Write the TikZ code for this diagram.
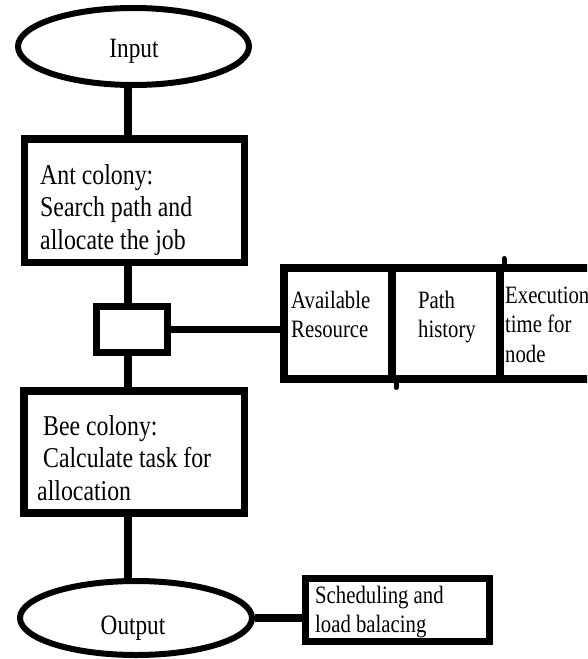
\documentclass[tikz,border=0pt]{standalone}
\usepackage{fontspec}
\setmainfont{Liberation Serif}[FakeStretch=0.83]
\usetikzlibrary{shapes.geometric}

\begin{document}
\begin{tikzpicture}[x=1pt,y=-1pt,
    term/.style={ellipse,draw,line width=6pt,inner sep=0pt},
    block/.style={rectangle,draw,line width=7.5pt,inner sep=0pt},
    cell/.style={rectangle,draw,line width=8pt,inner sep=0pt,minimum height=111pt},
    link/.style={line width=7.5pt},
    nub/.style={line width=5pt,line cap=round},
    termtext/.style={anchor=base,inner sep=0pt,font=\fontsize{28}{32}\selectfont},
    boxtext/.style={anchor=north west,inner sep=0pt,align=left,font=\fontsize{28.7}{32.5}\selectfont},
    celltext/.style={anchor=north west,inner sep=0pt,align=left,font=\fontsize{25}{29.5}\selectfont}]
  \useasboundingbox (0,0) rectangle (587,659);
  \clip (0,0) rectangle (587,659);
  \coordinate (spine) at (128,0);

  \node[term,minimum width=231pt,minimum height=77pt] (input) at (133.5,46.5) {};
  \node[termtext] (inputTxt) at (134,57) {Input};

  \node[block,minimum width=220pt,minimum height=123.5pt] (ant) at (134.5,200.75) {};
  \node[boxtext] (antTxt) at (40,161.25) {\strut Ant colony:\\Search path and\\allocate the job};

  \node[block,minimum width=71pt,minimum height=46pt] (gate) at (132,329.5) {};

  \node[block,minimum width=220.5pt,minimum height=122.25pt] (bee) at (134.25,451.9) {};
  \node[boxtext] (beeTxt) at (37,412.25) {\strut\ Bee colony:\\\ Calculate task for\\allocation};

  \node[term,minimum width=232pt,minimum height=74pt] (output) at (136,618) {};
  \node[termtext] (outputTxt) at (133,634) {Output};

  \node[cell,minimum width=108pt] (res) at (338,323) {};
  \node[cell,minimum width=108pt] (hist) at (446,323) {};
  \node[cell,minimum width=120pt] (exec) at (560,323) {};
  \node[celltext] (resTxt) at (291,287.35) {\strut Available\\Resource};
  \node[celltext] (histTxt) at (418,287.35) {\strut Path\\history};
  \node[celltext] (execTxt) at (505,282.35) {\strut Execution\\time for\\node};
  \draw[nub] (res.south east) -- ++(0,5);
  \draw[nub] (hist.north east) -- ++(0,-5);

  \node[block,minimum width=184pt,minimum height=63pt] (sched) at (397.5,610) {};
  \node[celltext] (schedTxt) at (315,582.35) {\strut Scheduling and\\load balacing};

  \draw[link] (input.south -| spine) -- (ant.north -| spine);
  \draw[link] (ant.south -| spine) -- (gate.north -| spine);
  \draw[link] (gate.south -| spine) -- (bee.north -| spine);
  \draw[link] (bee.south -| spine) -- (output.north -| spine);
  \draw[link] (gate.east) -- (gate.east -| res.west);
  \draw[link] (output.east) -- (output.east -| sched.west);
\end{tikzpicture}
\end{document}
